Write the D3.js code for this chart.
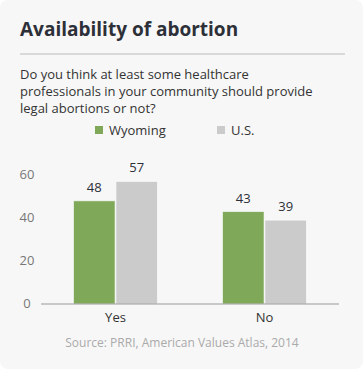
<!DOCTYPE html>
<html>
<head>
<meta charset="utf-8">
<script src="https://cdn.jsdelivr.net/npm/d3@7"></script>
<style>
  html, body { margin: 0; padding: 0; background: #fff; }
  svg { display: block; font-family: "Open Sans", sans-serif; }
</style>
</head>
<body>
<svg id="chart" width="363" height="369"></svg>
<script>
const categories = ['Yes', 'No'];
const seriesNames = ['Wyoming', 'U.S.'];
const wyoming = [48, 43];
const us = [57, 39];
const yTicks = [0, 20, 40, 60];
const colors = ['#7fa858', '#cbcbcb'];

const svg = d3.select('#chart');

// card background
svg.append('rect')
  .attr('width', 363).attr('height', 369)
  .attr('rx', 8).attr('fill', '#f7f7f7');

svg.append('text')
  .attr('x', 20).attr('y', 36)
  .attr('font-size', 19).attr('font-weight', 'bold')
  .attr('fill', '#2d3038')
  .text('Availability of abortion');

svg.append('line')
  .attr('x1', 20).attr('x2', 345)
  .attr('y1', 54).attr('y2', 54)
  .attr('stroke', '#cfcfcf').attr('stroke-width', 1.5);

const subtitle = [
  'Do you think at least some healthcare',
  'professionals in your community should provide',
  'legal abortions or not?'
];
svg.append('text')
  .attr('font-size', 13).attr('fill', '#333')
  .selectAll('tspan')
  .data(subtitle)
  .enter()
  .append('tspan')
  .attr('x', 20)
  .attr('y', (d, i) => 79 + i * 17)
  .text(d => d);

// legend
const legend = svg.append('g')
  .selectAll('g')
  .data(seriesNames)
  .enter()
  .append('g')
  .attr('transform', (d, i) => 'translate(' + (95 + i * 122) + ',126)');
legend.append('rect')
  .attr('width', 8).attr('height', 8)
  .attr('fill', (d, i) => colors[i]);
legend.append('text')
  .attr('x', 14).attr('y', 8.5)
  .attr('font-size', 13).attr('fill', '#333')
  .text(d => d);

// scales
const y = d3.scaleLinear().domain([0, 60]).range([304, 175]);
const x0 = d3.scaleBand().domain(categories).range([41, 339]);
const x1 = d3.scaleBand().domain(seriesNames).range([0, 84]).paddingInner(0.02);
const groupOffset = (x0.bandwidth() - 84) / 2;

// y tick labels
svg.append('g')
  .selectAll('text')
  .data(yTicks)
  .enter()
  .append('text')
  .attr('x', 27)
  .attr('y', d => y(d))
  .attr('dy', '0.32em')
  .attr('text-anchor', 'middle')
  .attr('font-size', 13).attr('fill', '#777')
  .text(d => d);

const rows = categories.map((c, i) => ({
  cat: c,
  values: [
    { key: seriesNames[0], value: wyoming[i], color: colors[0] },
    { key: seriesNames[1], value: us[i], color: colors[1] }
  ]
}));

const groups = svg.append('g')
  .selectAll('g')
  .data(rows)
  .enter()
  .append('g')
  .attr('transform', d => 'translate(' + (x0(d.cat) + groupOffset) + ',0)');

groups.selectAll('rect')
  .data(d => d.values)
  .enter()
  .append('rect')
  .attr('x', d => x1(d.key))
  .attr('width', x1.bandwidth())
  .attr('y', d => y(d.value))
  .attr('height', d => y(0) - y(d.value))
  .attr('fill', d => d.color)
  .attr('stroke', '#fff').attr('stroke-opacity', 0.6).attr('stroke-width', 1);

groups.selectAll('text.val')
  .data(d => d.values)
  .enter()
  .append('text')
  .attr('class', 'val')
  .attr('x', d => x1(d.key) + x1.bandwidth() / 2)
  .attr('y', d => y(d.value) - 9)
  .attr('text-anchor', 'middle')
  .attr('font-size', 13).attr('fill', '#2d3038')
  .text(d => d.value);

// baseline
svg.append('line')
  .attr('x1', 41).attr('x2', 339)
  .attr('y1', y(0)).attr('y2', y(0))
  .attr('stroke', '#999').attr('stroke-width', 1);

// category labels
svg.append('g')
  .selectAll('text')
  .data(categories)
  .enter()
  .append('text')
  .attr('x', d => x0(d) + x0.bandwidth() / 2)
  .attr('y', 322)
  .attr('text-anchor', 'middle')
  .attr('font-size', 13).attr('fill', '#333')
  .text(d => d);

svg.append('text')
  .attr('x', 182).attr('y', 347)
  .attr('text-anchor', 'middle')
  .attr('font-size', 12).attr('fill', '#aaa')
  .text('Source: PRRI, American Values Atlas, 2014');
</script>
</body>
</html>
